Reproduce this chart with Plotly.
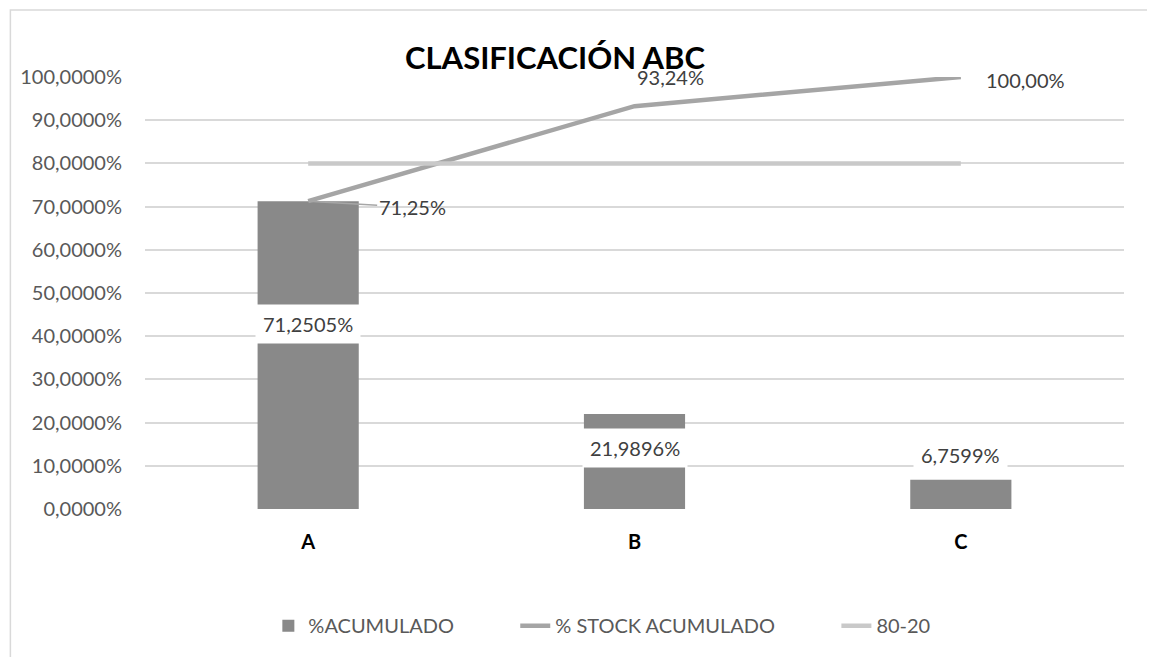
import plotly.graph_objects as go

# datos
clases = ['A', 'B', 'C']
pct_acumulado = [0.712505, 0.219896, 0.067599]
pct_stock_acumulado = [0.7125, 0.9324, 1.0]
linea_80_20 = [0.8, 0.8, 0.8]
etiquetas_barras = ['71,2505%', '21,9896%', '6,7599%']
etiquetas_stock = ['71,25%', '93,24%', '100,00%']

FONT = 'Lato, "Open Sans", sans-serif'
GRIS_TXT = '#595959'
PAD = '\u00a0' * 11  # separacion entre items de la leyenda

fig = go.Figure()

fig.add_trace(go.Bar(x=clases, y=pct_acumulado, name='%ACUMULADO' + PAD,
                     marker=dict(color='#898989', line=dict(width=0)),
                     width=0.31))
fig.add_trace(go.Scatter(x=clases, y=pct_stock_acumulado, mode='lines',
                         name='% STOCK ACUMULADO' + PAD,
                         line=dict(color='#A5A5A5', width=4.5)))
fig.add_trace(go.Scatter(x=clases, y=linea_80_20, mode='lines', name='80-20',
                         line=dict(color='#C9C9C9', width=4.5)))

# etiquetas de las barras (fondo blanco)
shift_barras = [-123, -34, 25]
for x, y, t, s in zip(clases, pct_acumulado, etiquetas_barras, shift_barras):
    fig.add_annotation(x=x, y=y, text=t, showarrow=False, yshift=s,
                       bgcolor='white', borderpad=7,
                       font=dict(family=FONT, size=20, color='#404040'))

# etiquetas de la linea acumulada
fig.add_annotation(x=clases[0], y=pct_stock_acumulado[0], text=etiquetas_stock[0],
                   showarrow=True, arrowhead=0, arrowwidth=1.5, arrowcolor='#A6A6A6',
                   ax=104, ay=6, standoff=0,
                   font=dict(family=FONT, size=20, color='#404040'))
fig.add_annotation(x=clases[1], y=pct_stock_acumulado[1], text=etiquetas_stock[1],
                   showarrow=False, xshift=36, yshift=29,
                   font=dict(family=FONT, size=20, color='#404040'))
fig.add_annotation(x=clases[2], y=pct_stock_acumulado[2], text=etiquetas_stock[2],
                   showarrow=False, xshift=65, yshift=-3,
                   font=dict(family=FONT, size=20, color='#404040'))

# borde del grafico
fig.add_shape(type='rect', xref='paper', yref='paper',
              x0=-0.1375, x1=1.2, y0=-0.5, y1=1.155,
              line=dict(color='#D9D9D9', width=1.5), layer='below')

fig.update_xaxes(showgrid=False, showline=False, ticks='',
                 tickfont=dict(family=FONT, size=20, color='black', weight='bold'),
                 ticklabelstandoff=19)
fig.update_yaxes(range=[0, 1.0], dtick=0.1, tickformat='.4%',
                 showgrid=True, gridcolor='#D9D9D9', gridwidth=1.5,
                 zeroline=False, showline=False,
                 tickfont=dict(family=FONT, size=20, color=GRIS_TXT),
                 ticklabelstandoff=22)

fig.update_layout(width=1155, height=657,
                  separators=',.',
                  title=dict(text='<b>CLASIFICACIÓN ABC</b>', x=0.4736, xanchor='center',
                             y=0.924, yanchor='middle',
                             font=dict(family=FONT, size=31, color='black')),
                  margin=dict(l=134, r=39, t=69, b=156),
                  plot_bgcolor='white', paper_bgcolor='white',
                  legend=dict(orientation='h', x=0.126, xanchor='left',
                              y=-0.27, yanchor='middle',
                              font=dict(family=FONT, size=20, color=GRIS_TXT)),
                  showlegend=True)

fig.write_html("out.html")
